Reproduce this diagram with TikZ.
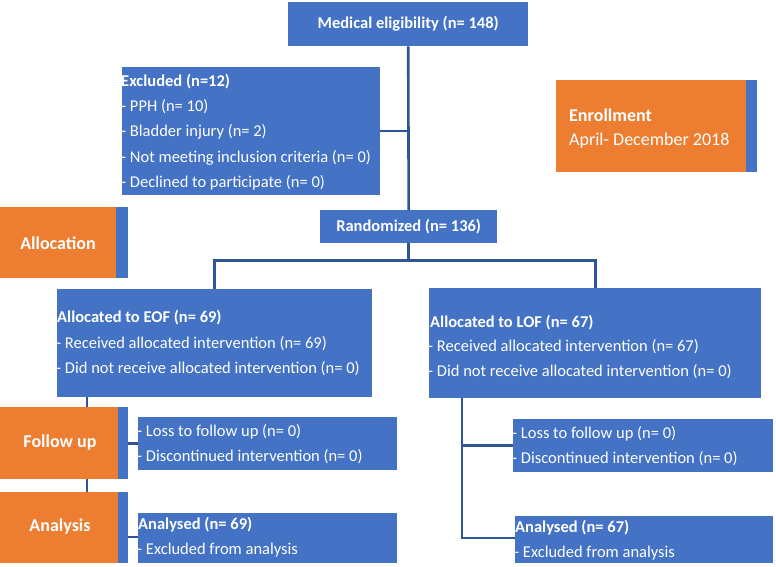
\documentclass[tikz,border=0pt]{standalone}
\usepackage{fontspec}
\setmainfont{Carlito}
\definecolor{cblue}{HTML}{4472C4}
\definecolor{corange}{HTML}{ED7D31}
\definecolor{cline}{HTML}{2F5597}
\begin{document}
\begin{tikzpicture}[x=1pt,y=-1pt,
  bbox/.style={fill=cblue,draw=none,inner sep=0pt,anchor=north west},
  obox/.style={fill=corange,draw=none,inner sep=0pt,anchor=north west},
  ln/.style={draw=cline,line width=2.6pt},
  txt/.style={text=white,font=\fontsize{16.5}{19}\selectfont,anchor=base west,inner sep=0pt},
  btxt/.style={txt,font=\fontsize{16.5}{19}\selectfont\bfseries},
  ctxt/.style={text=white,font=\fontsize{16.5}{19}\selectfont\bfseries},
  stxt/.style={text=white,font=\fontsize{18}{21}\selectfont\bfseries},
  etxt/.style={txt,font=\fontsize{18}{21}\selectfont}]
\useasboundingbox (0,0) rectangle (776,567);
% connector helpers
\coordinate (lt) at (87,397);
\coordinate (lb) at (87,492);
\draw[ln] (lt) -- (lb);
% top
\node[bbox,minimum width=240pt,minimum height=44pt] (med) at (288,2) {};
\node[ctxt] (medt) at (med.center) {Medical eligibility (n= 148)};
\node[bbox,minimum width=258pt,minimum height=128pt] (excl) at (122,67) {};
\node[btxt] (ex0) at (121,87) {Excluded (n=12)};
\node[txt] (ex1) at (121,112) {- PPH (n= 10)};
\node[txt] (ex2) at (121,137) {- Bladder injury (n= 2)};
\node[txt] (ex3) at (121,162) {- Not meeting inclusion criteria (n= 0)};
\node[txt] (ex4) at (121,187) {- Declined to participate (n= 0)};
\node[bbox,minimum width=177pt,minimum height=33pt] (rand) at (320,210) {};
\node[ctxt] (randt) at (rand.center) {Randomized (n= 136)};
% enrollment
\node[obox,minimum width=190pt,minimum height=92pt] (enr) at (556,80) {};
\node[bbox,minimum width=11pt,minimum height=92pt] (enrs) at (746,80) {};
\node[etxt,font=\fontsize{18}{21}\selectfont\bfseries] (enrt) at (569,122) {Enrollment};
\node[etxt] (enrd) at (569,146) {April- December 2018};
% side labels
\node[obox,minimum width=116pt,minimum height=71pt] (alloc) at (0,207) {};
\node[bbox,minimum width=12pt,minimum height=71pt] (allocs) at (116,207) {};
\node[stxt] (alloct) at (58,243) {Allocation};
\node[obox,minimum width=118pt,minimum height=72pt] (fu) at (0,407) {};
\node[bbox,minimum width=10pt,minimum height=72pt] (fus) at (118,407) {};
\node[stxt] (fut) at (60,443) {Follow up};
\node[obox,minimum width=118pt,minimum height=71pt] (an) at (0,492) {};
\node[bbox,minimum width=10pt,minimum height=71pt] (ans) at (118,492) {};
\node[stxt] (ant) at (60,527) {Analysis};
% arms
\node[bbox,minimum width=315pt,minimum height=108pt] (eof) at (57,289) {};
\node[btxt] (eof0) at (57,322) {Allocated to EOF (n= 69)};
\node[txt] (eof1) at (56,348) {- Received allocated intervention (n= 69)};
\node[txt] (eof2) at (56,373) {- Did not receive allocated intervention (n= 0)};
\node[bbox,minimum width=332pt,minimum height=110pt] (lof) at (429,288) {};
\node[btxt] (lof0) at (430,327) {Allocated to LOF (n= 67)};
\node[txt] (lof1) at (428,351) {- Received allocated intervention (n= 67)};
\node[txt] (lof2) at (428,376) {- Did not receive allocated intervention (n= 0)};
% follow-up boxes
\node[bbox,minimum width=259pt,minimum height=53pt] (lfu) at (138,417) {};
\node[txt] (lfu1) at (137,436) {- Loss to follow up (n= 0)};
\node[txt] (lfu2) at (137,461) {- Discontinued intervention (n= 0)};
\node[bbox,minimum width=260pt,minimum height=53pt] (rfu) at (513,419) {};
\node[txt] (rfu1) at (512,438) {- Loss to follow up (n= 0)};
\node[txt] (rfu2) at (512,463) {- Discontinued intervention (n= 0)};
% analysed boxes
\node[bbox,minimum width=259pt,minimum height=50pt] (lan) at (138,513) {};
\node[btxt] (lan1) at (138,529) {Analysed (n= 69)};
\node[txt] (lan2) at (137,554) {- Excluded from analysis};
\node[bbox,minimum width=258pt,minimum height=47pt] (ran) at (515,516) {};
\node[btxt] (ran1) at (515,532) {Analysed (n= 67)};
\node[txt] (ran2) at (514,557) {- Excluded from analysis};
% connectors
\draw[ln] (med.south) -- (rand.north);
\draw[ln] (excl.east) -- (excl.east -| med.south);
\draw[ln] (rand.south) -- ++(0,17) coordinate (split);
\draw[ln] (eof.north) |- (split) -| (lof.north);
\draw[ln] (fus.east |- lfu.west) -- (lfu.west);
\draw[ln] (ans.east |- 0,537) -- (lan.west |- 0,537);
\coordinate (rt) at (462,398);
\draw[ln] (rt) |- (ran.west |- 0,538);
\draw[ln] (rt |- rfu.west) -- (rfu.west);
\end{tikzpicture}
\end{document}
